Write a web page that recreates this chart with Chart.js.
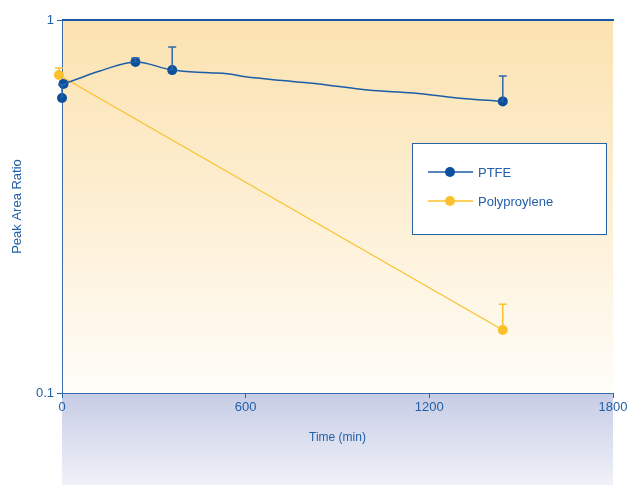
<!DOCTYPE html>
<html>
<head>
<meta charset="utf-8">
<script src="https://cdn.jsdelivr.net/npm/chart.js@4"></script>
<style>
  html, body { margin: 0; padding: 0; background: #fff; }
  #wrap { width: 632px; height: 485px; }
</style>
</head>
<body>
<div id="wrap"><canvas id="c" width="632" height="485"></canvas></div>
<script>
// ---- data ----
const xTicks = [0, 600, 1200, 1800];
const yTicks = [0.1, 1];

// PTFE smooth trend line
const ptfeLineT = [5, 59, 124, 240, 360, 480, 540, 600, 720, 840, 1000, 1150, 1290, 1440];
const ptfeLineV = [0.674, 0.699, 0.730, 0.772, 0.734, 0.722, 0.718, 0.704, 0.688, 0.674, 0.649, 0.637, 0.618, 0.605];
// PTFE measured points + upper error
const ptfeT   = [0, 5, 240, 360, 1440];
const ptfeV   = [0.618, 0.674, 0.772, 0.734, 0.605];
const ptfeErr = [0.670, null, 0.791, 0.846, 0.708];

// Polypropylene
const polyT   = [-10, 1440];
const polyV   = [0.712, 0.1475];
const polyErr = [0.743, 0.173];

const BLUE = "#0c4f9c";
const BLUE_LINE = "#1d5ca6";
const YELLOW = "#fbc12d";
const TEXT = "#2360a8";
const FONT = "'Liberation Sans', Arial, sans-serif";

function pts(t, v) { return t.map((x, i) => ({ x: x, y: v[i] })); }

// ---- plugins ----
const backdrop = {
  id: "backdrop",
  beforeDraw(chart) {
    const { ctx, chartArea: a } = chart;
    ctx.save();
    ctx.fillStyle = "#fff";
    ctx.fillRect(0, 0, chart.width, chart.height);
    let g = ctx.createLinearGradient(0, a.bottom, 0, chart.height);
    g.addColorStop(0, "#c6cce5");
    g.addColorStop(1, "#f0f1f8");
    ctx.fillStyle = g;
    ctx.fillRect(a.left, a.bottom, a.right - a.left, chart.height - a.bottom);
    g = ctx.createLinearGradient(0, a.top, 0, a.bottom);
    g.addColorStop(0, "#fbe2b0");
    g.addColorStop(0.5, "#fdefd3");
    g.addColorStop(1, "#fffdf9");
    ctx.fillStyle = g;
    ctx.fillRect(a.left, a.top, a.right - a.left, a.bottom - a.top);
    ctx.restore();
  },
  afterDraw(chart) {
    const { ctx, chartArea: a } = chart;
    ctx.save();
    ctx.strokeStyle = "#1a57a3";
    ctx.lineWidth = 2;
    ctx.beginPath();
    ctx.moveTo(a.left, a.top);
    ctx.lineTo(a.right + 1, a.top);
    ctx.stroke();
    ctx.restore();
  }
};

const errorBars = {
  id: "errorBars",
  afterDatasetsDraw(chart) {
    const { ctx } = chart;
    const ys = chart.scales.y, xs = chart.scales.x;
    chart.data.datasets.forEach(ds => {
      if (!ds.errHigh) return;
      ctx.save();
      ctx.strokeStyle = ds.barColor;
      ctx.lineWidth = 1.5;
      ds.data.forEach((p, i) => {
        const hi = ds.errHigh[i];
        if (hi == null) return;
        const x = xs.getPixelForValue(p.x);
        const y0 = ys.getPixelForValue(p.y);
        const y1 = ys.getPixelForValue(hi);
        ctx.beginPath();
        ctx.moveTo(x, y0);
        ctx.lineTo(x, y1);
        ctx.moveTo(x - 4, y1);
        ctx.lineTo(x + 4, y1);
        ctx.stroke();
      });
      ctx.restore();
    });
  }
};

const legendBox = {
  id: "legendBox",
  afterDraw(chart) {
    const { ctx } = chart;
    const items = chart.data.datasets.filter(d => d.legend);
    const bx = 412.5, by = 143.5, bw = 194, bh = 91;
    ctx.save();
    ctx.fillStyle = "#fff";
    ctx.fillRect(bx, by, bw, bh);
    ctx.strokeStyle = "#2a62a8";
    ctx.lineWidth = 1;
    ctx.strokeRect(bx, by, bw, bh);
    items.forEach((d, i) => {
      const y = 172 + i * 29;
      ctx.strokeStyle = d.borderColor;
      ctx.lineWidth = 1.3;
      ctx.beginPath();
      ctx.moveTo(428, y);
      ctx.lineTo(473, y);
      ctx.stroke();
      ctx.fillStyle = d.backgroundColor;
      ctx.beginPath();
      ctx.arc(450, y, 5, 0, Math.PI * 2);
      ctx.fill();
      ctx.fillStyle = TEXT;
      ctx.font = "13px " + FONT;
      ctx.textBaseline = "middle";
      ctx.fillText(d.label, 478, y + 1);
    });
    ctx.restore();
  }
};

new Chart(document.getElementById("c").getContext("2d"), {
  type: "scatter",
  data: {
    datasets: [
      { label: "PTFE line", data: pts(ptfeLineT, ptfeLineV), showLine: true, tension: 0.35,
        borderColor: BLUE_LINE, borderWidth: 1.5, pointRadius: 0, clip: false },
      { label: "Polypropylene line", data: pts(polyT, polyV), showLine: true,
        borderColor: YELLOW, borderWidth: 1.2, pointRadius: 0, clip: false },
      { label: "PTFE", legend: true, data: pts(ptfeT, ptfeV), errHigh: ptfeErr, barColor: "#2f67aa",
        borderColor: BLUE_LINE, backgroundColor: BLUE, pointRadius: 5, pointBorderWidth: 0, clip: false },
      { label: "Polyproylene", legend: true, data: pts(polyT, polyV), errHigh: polyErr, barColor: YELLOW,
        borderColor: YELLOW, backgroundColor: YELLOW, pointRadius: 5, pointBorderWidth: 0, clip: false }
    ]
  },
  options: {
    responsive: false,
    animation: false,
    layout: { padding: { top: 20, right: 19, left: 0, bottom: 0 } },
    plugins: { legend: { display: false }, tooltip: { enabled: false } },
    scales: {
      x: {
        type: "linear", min: 0, max: 1800,
        afterBuildTicks: s => { s.ticks = xTicks.map(v => ({ value: v })); },
        afterFit: s => { s.height = 92; },
        grid: { drawOnChartArea: false, tickLength: 5, color: "#2a62a8" },
        border: { color: "#3a6cb0", width: 1 },
        ticks: { color: TEXT, font: { family: FONT, size: 13 }, padding: 2, maxRotation: 0,
                 callback: v => String(v) },
        title: { display: true, text: "Time (min)", color: TEXT,
                 font: { family: FONT, size: 12 }, padding: { bottom: 40 } }
      },
      y: {
        type: "logarithmic", min: 0.1, max: 1,
        afterBuildTicks: s => { s.ticks = yTicks.map(v => ({ value: v })); },
        afterFit: s => { s.width = 62; },
        grid: { drawOnChartArea: false, tickLength: 5, color: "#2a62a8" },
        border: { color: "#3a6cb0", width: 1 },
        ticks: { color: TEXT, font: { family: FONT, size: 13 }, padding: 3,
                 callback: v => String(v) },
        title: { display: true, text: "Peak Area Ratio", color: TEXT,
                 font: { family: FONT, size: 13 }, padding: { top: 10 } }
      }
    }
  },
  plugins: [backdrop, errorBars, legendBox]
});
</script>
</body>
</html>
